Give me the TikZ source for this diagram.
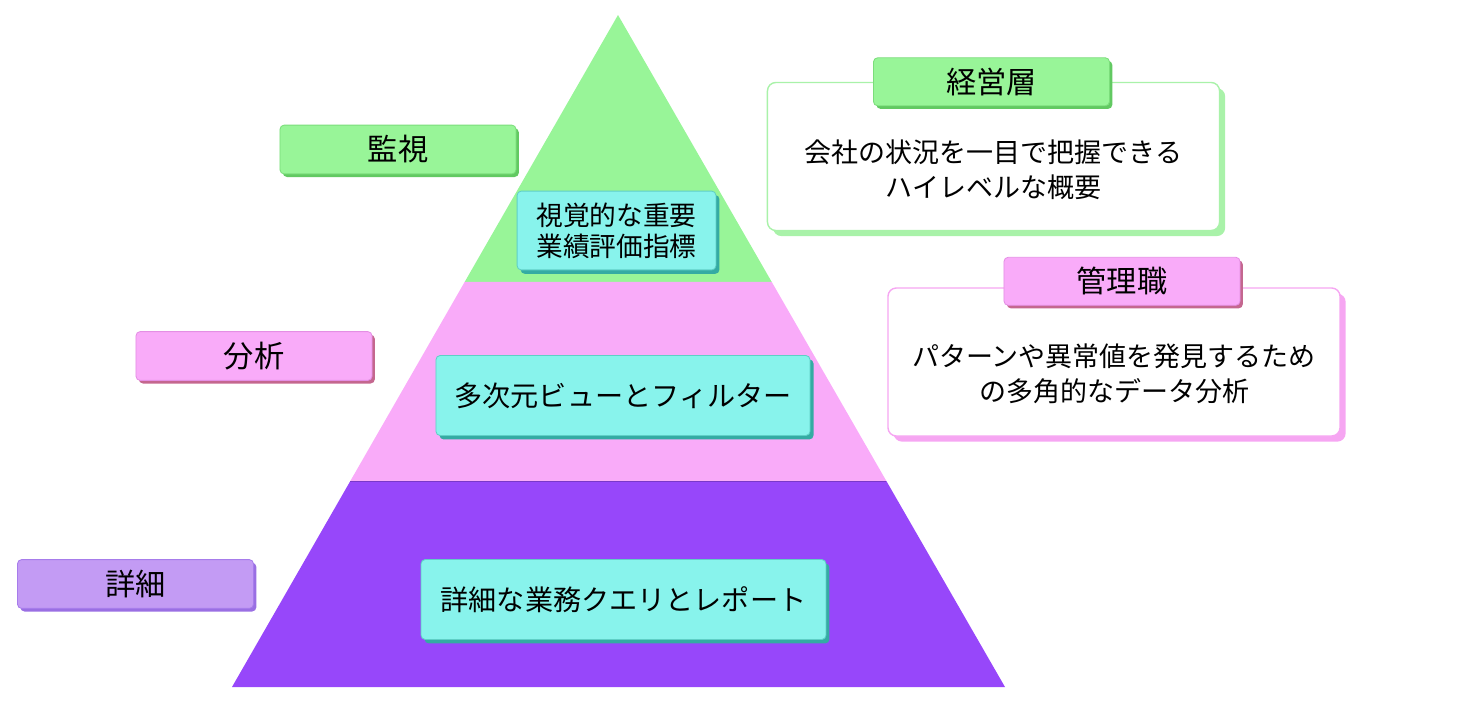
\documentclass[tikz,border=0pt]{standalone}
\usepackage{fontspec}
\setmainfont{Noto Sans CJK JP}
\usetikzlibrary{calc,shadows}

\definecolor{topGreen}{HTML}{98F598}
\definecolor{greenEdge}{HTML}{7BDD7B}
\definecolor{greenShade}{HTML}{62C962}
\definecolor{midPink}{HTML}{F9ABF9}
\definecolor{pinkEdge}{HTML}{E48FE4}
\definecolor{pinkShade}{HTML}{C4678F}
\definecolor{botPurple}{HTML}{9747FA}
\definecolor{lilac}{HTML}{C39BF4}
\definecolor{lilacEdge}{HTML}{A77CEB}
\definecolor{lilacShade}{HTML}{9A6FE3}
\definecolor{kpiCyan}{HTML}{88F3EC}
\definecolor{cyanEdge}{HTML}{5FCFC6}
\definecolor{cyanShade}{HTML}{34ABA3}
\definecolor{paneGreen}{HTML}{A9F2A9}
\definecolor{panePink}{HTML}{F6A6F2}

\tikzset{
  box/.style={rounded corners=3pt, align=center, inner sep=0pt, line width=0.6pt},
  layerlabel/.style={box, minimum width=5.9cm, minimum height=1.22cm,
    font=\fontsize{21.5}{25}\selectfont},
  metric/.style={box, fill=kpiCyan, draw=cyanEdge, minimum height=2cm,
    general shadow={fill=cyanShade, shadow xshift=2.5pt, shadow yshift=-2.8pt},
    font=\fontsize{20}{22}\selectfont},
  pane/.style={box, rounded corners=6pt, fill=white, line width=1pt,
    minimum width=11.3cm, minimum height=3.7cm},
  panetext/.style={align=center, font=\fontsize{19.2}{25}\selectfont},
  tab/.style={box, minimum width=5.9cm, minimum height=1.2cm,
    font=\fontsize{21.5}{25}\selectfont}
}

\begin{document}
\begin{tikzpicture}[x=0.025cm, y=-0.025cm]

    \useasboundingbox (0,0) rectangle (1472,704);

    % Pyramid
    \coordinate (apex) at (618,15);
    \coordinate (bl) at (232,687);
    \coordinate (br) at (1005,687);
    \coordinate (l1) at ($(apex)!0.3973!(bl)$);
    \coordinate (r1) at ($(apex)!0.3973!(br)$);
    \coordinate (l2) at ($(apex)!0.6935!(bl)$);
    \coordinate (r2) at ($(apex)!0.6935!(br)$);

    \fill[topGreen] (apex) -- (l1) -- (r1) -- cycle;
    \fill[midPink] (l1) -- (l2) -- (r2) -- (r1) -- cycle;
    \fill[botPurple] (l2) -- (bl) -- (br) -- (r2) -- cycle;
    \draw[botPurple!80!black, line width=0.4pt] (l2) -- (r2);

    % Layer labels
    \node[layerlabel, fill=topGreen, draw=greenEdge,
      general shadow={fill=greenShade, shadow xshift=2pt, shadow yshift=-2.2pt}]
      (lblTop) at (398,149.5) {監視};
    \node[layerlabel, fill=midPink, draw=pinkEdge,
      general shadow={fill=pinkShade, shadow xshift=2pt, shadow yshift=-2.2pt}]
      (lblMid) at (254,356) {分析};
    \node[layerlabel, fill=lilac, draw=lilacEdge,
      general shadow={fill=lilacShade, shadow xshift=2pt, shadow yshift=-2.2pt}]
      (lblBot) at (135.5,584) {詳細};

    % Contents of each layer
    \node[metric, minimum width=4.97cm, minimum height=1.97cm,
      font=\fontsize{19}{22}\selectfont]
      (kpi) at (616.5,230.5) {視覚的な重要\\業績評価指標};
    \node[metric, minimum width=9.35cm] (multi) at (623,395.5) {多次元ビューとフィルター};
    \node[metric, minimum width=10.12cm] (query) at (623.5,599.5) {詳細な業務クエリとレポート};

    % Audience panes
    \node[pane, draw=paneGreen,
      general shadow={fill=paneGreen, shadow xshift=4pt, shadow yshift=-4pt}]
      (exec) at (993.5,156.5) {};
    \node[tab, fill=topGreen, draw=greenEdge,
      general shadow={fill=greenShade, shadow xshift=2pt, shadow yshift=-2.2pt}]
      (execTab) at ([xshift=-0.05cm]exec.north) {経営層};
    \node[panetext] (execTxt) at (993.5,170) {会社の状況を一目で把握できる\\ハイレベルな概要};

    \node[pane, draw=panePink,
      general shadow={fill=panePink, shadow xshift=4pt, shadow yshift=-4pt}]
      (mgr) at (1114,362) {};
    \node[tab, fill=midPink, draw=pinkEdge,
      general shadow={fill=pinkShade, shadow xshift=2pt, shadow yshift=-2.2pt}]
      (mgrTab) at ([xshift=0.2cm, yshift=0.15cm]mgr.north) {管理職};
    \node[panetext] (mgrTxt) at (1114,373.5) {パターンや異常値を発見するため\\の多角的なデータ分析};

\end{tikzpicture}
\end{document}
